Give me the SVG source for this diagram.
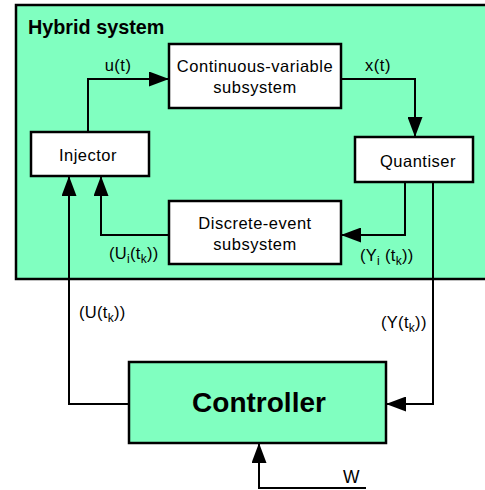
<svg xmlns="http://www.w3.org/2000/svg" width="485" height="490" viewBox="0 0 485 490">
<style>
text{font-family:"Liberation Sans",Arial,sans-serif;fill:#000}
.box{fill:#fff;stroke:#000;stroke-width:2.5}
.green{fill:#80FFC0;stroke:#000;stroke-width:2.5}
.lbl{font-size:16.5px;text-anchor:middle;letter-spacing:0.5px}
.sm{font-size:16.5px;letter-spacing:0.3px}
.sub{font-size:12px}
.c{fill:none;stroke:#000;stroke-width:2}
</style>
<defs>
<marker id="ah" viewBox="0 0 20 15" refX="20" refY="7.5" markerWidth="20" markerHeight="15" markerUnits="userSpaceOnUse" orient="auto">
<path d="M0,0 L20,7.5 L0,15 Z" fill="#000"/>
</marker>
</defs>
<g id="hybrid">
<rect x="16" y="5" width="480" height="274" class="green"/>
<text x="28" y="34" font-size="19.8" font-weight="bold">Hybrid system</text>
</g>
<g id="continuous">
<rect x="169" y="44" width="172" height="64" class="box"/>
<text x="255" y="72" class="lbl">Continuous-variable</text>
<text x="255" y="93" class="lbl">subsystem</text>
</g>
<g id="injector">
<rect x="31" y="132" width="118" height="44" class="box"/>
<text x="88" y="161" class="lbl">Injector</text>
</g>
<g id="quantiser">
<rect x="355" y="137" width="118" height="45" class="box"/>
<text x="418" y="167" class="lbl">Quantiser</text>
</g>
<g id="discrete">
<rect x="169" y="201" width="172" height="63" class="box"/>
<text x="255" y="229" class="lbl">Discrete-event</text>
<text x="255" y="250" class="lbl">subsystem</text>
</g>
<g id="controller">
<rect x="129" y="362" width="257" height="81" class="green"/>
<text x="259" y="412" font-size="28" font-weight="bold" text-anchor="middle">Controller</text>
</g>
<g id="connectors">
<polyline points="88,132 88,79 169,79" class="c" marker-end="url(#ah)"/>
<polyline points="341,79 415,79 415,137" class="c" marker-end="url(#ah)"/>
<polyline points="405,182 405,235 341,235" class="c" marker-end="url(#ah)"/>
<polyline points="169,235 101,235 101,176" class="c" marker-end="url(#ah)"/>
<polyline points="433,182 433,404 386,404" class="c" marker-end="url(#ah)"/>
<polyline points="129,404 69,404 69,176" class="c" marker-end="url(#ah)"/>
<polyline points="366,488 259,488 259,443" class="c" marker-end="url(#ah)"/>
</g>
<g id="labels">
<text x="118" y="71" class="lbl">u(t)</text>
<text x="378" y="71" class="lbl">x(t)</text>
<text x="109" y="259" class="sm">(U<tspan class="sub" dy="4">i</tspan><tspan dy="-4">(t</tspan><tspan class="sub" dy="4">k</tspan><tspan dy="-4">))</tspan></text>
<text x="360" y="261" class="sm">(Y<tspan class="sub" dy="4">i</tspan><tspan dy="-4"> (t</tspan><tspan class="sub" dy="4">k</tspan><tspan dy="-4">))</tspan></text>
<text x="79" y="318" class="sm">(U(t<tspan class="sub" dy="4">k</tspan><tspan dy="-4">))</tspan></text>
<text x="381" y="328" class="sm">(Y(t<tspan class="sub" dy="4">k</tspan><tspan dy="-4">))</tspan></text>
<text x="343" y="483" font-size="17.5">W</text>
</g>
</svg>
